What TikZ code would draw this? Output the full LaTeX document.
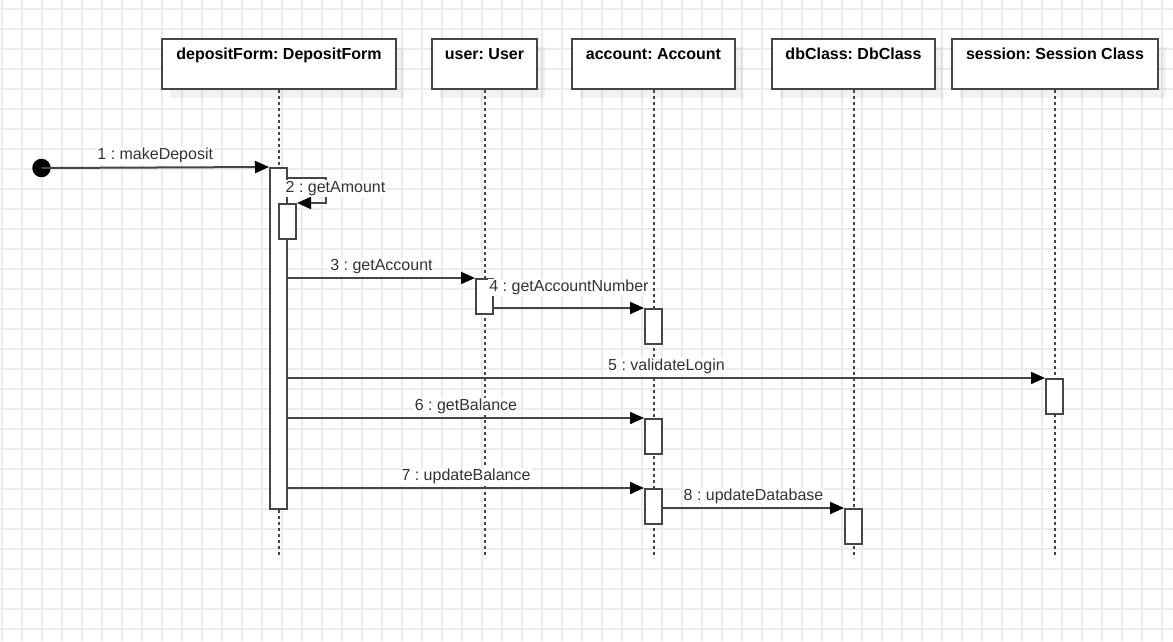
\documentclass[tikz,border=0pt]{standalone}
\usepackage{fontspec}
\setmainfont{Liberation Sans}
\usetikzlibrary{arrows.meta,calc}
\frenchspacing

\definecolor{gridc}{HTML}{EBEBEB}
\definecolor{linec}{HTML}{454545}
\definecolor{txtc}{HTML}{333333}

\tikzset{
  hdr/.style={draw=linec, line width=2pt, fill=white, minimum width=#1, minimum height=50pt, inner sep=0pt},
  hdrtxt/.style={anchor=base, font=\fontsize{16pt}{19pt}\selectfont\bfseries, text=black, inner sep=0pt},
  shadowbox/.style={fill=black, opacity=0.05, draw=none},
  lifeline/.style={draw=linec, line width=2pt, dash pattern=on 3pt off 3pt},
  act/.style={draw=linec, line width=2pt, fill=white, minimum width=17pt, minimum height=#1, inner sep=0pt},
  msg/.style={draw=linec, line width=2pt, -{Triangle[length=14pt,width=12pt,color=black]}},
  lbl/.style={font=\fontsize{16pt}{19pt}\selectfont, text=txtc, fill=white, inner sep=1pt, anchor=base},
  startdot/.style={circle, fill=black, minimum size=18.5pt, inner sep=0pt}
}

\begin{document}
\begin{tikzpicture}[x=1pt, y=-1pt]
\useasboundingbox (0,0) rectangle (1173,641);
\fill[white] (0,0) rectangle (1173,641);

% background grid
\foreach \gx in {2,22,...,1162} \draw[gridc, line width=1.5pt] (\gx,0) -- (\gx,641);
\foreach \gy in {9,29,...,629} \draw[gridc, line width=1.5pt] (0,\gy) -- (1173,\gy);

% header shadows
\foreach \xa/\xb in {162/396, 432/537, 572/735, 772/935, 952/1158}
  \fill[shadowbox] (\xa+8,47) rectangle (\xb+8,98);

% object headers
\node[hdr=234pt] (df) at (279,64) {};
\node[hdr=105pt] (us) at (484.5,64) {};
\node[hdr=163pt] (ac) at (653.5,64) {};
\node[hdr=163pt] (db) at (853.5,64) {};
\node[hdr=206pt] (se) at (1055,64) {};
\node[hdrtxt] (dfT) at ($(df.north)+(0,21)$) {depositForm: DepositForm};
\node[hdrtxt] (usT) at ($(us.north)+(0,21)$) {user: User};
\node[hdrtxt] (acT) at ($(ac.north)+(0,21)$) {account: Account};
\node[hdrtxt] (dbT) at ($(db.north)+(0,21)$) {dbClass: DbClass};
\node[hdrtxt] (seT) at ($(se.north)+(0,21)$) {session: Session Class};

% lifeline ends
\coordinate (dfE) at (279,558);
\coordinate (usE) at (484.5,558);
\coordinate (acE) at (653.5,558);
\coordinate (dbE) at (853.5,558);
\coordinate (seE) at (1055,558);
\draw[lifeline] (df.south) -- (dfE);
\draw[lifeline] (us.south) -- (usE);
\draw[lifeline] (ac.south) -- (acE);
\draw[lifeline] (db.south) -- (dbE);
\draw[lifeline] (se.south) -- (seE);

% activation bars
\node[act=341pt] (aDF) at (278.5,338.5) {};
\node[act=35pt] (aDF2) at (287.5,221.5) {};
\node[act=35pt] (aU) at (484.5,296.5) {};
\node[act=35pt] (aA1) at (653.5,326.5) {};
\node[act=35pt] (aS) at (1054.5,396.5) {};
\node[act=35pt] (aA2) at (653.5,436.5) {};
\node[act=35pt] (aA3) at (653.5,506.5) {};
\node[act=35pt] (aD) at (853.5,526.5) {};

% initial call
\node[startdot] (start) at (41.5,168) {};
\draw[msg] (start.center) -- node[lbl, midway, yshift=8pt] {1 : makeDeposit} (aDF.north west);

% self call
\draw[msg] (aDF.east |- 0,178) -- ++(38,0) |- (aDF2.north east);
\node[lbl] (l2) at (335.5,192.5) {2 : getAmount};

% remaining calls
\draw[msg] (aDF.east |- aU.north) -- node[lbl, midway, yshift=7.5pt] {3 : getAccount} (aU.north west);
\draw[msg] (aU.east |- aA1.north) -- node[lbl, midway, yshift=16.5pt] {4 : getAccountNumber} (aA1.north west);
\draw[msg] (aDF.east |- aS.north) -- node[lbl, midway, yshift=7.5pt] {5 : validateLogin} (aS.north west);
\draw[msg] (aDF.east |- aA2.north) -- node[lbl, midway, yshift=7.5pt] {6 : getBalance} (aA2.north west);
\draw[msg] (aDF.east |- aA3.north) -- node[lbl, midway, yshift=7.5pt] {7 : updateBalance} (aA3.north west);
\draw[msg] (aA3.east |- aD.north) -- node[lbl, midway, yshift=7.5pt] {8 : updateDatabase} (aD.north west);
\end{tikzpicture}
\end{document}
